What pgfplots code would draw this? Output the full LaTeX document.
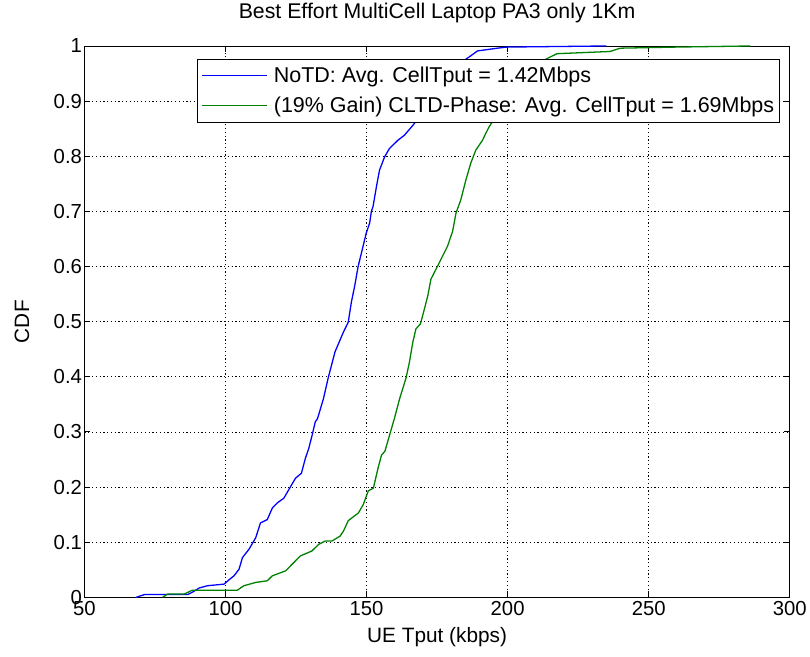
\documentclass[border=0pt]{standalone}
\usepackage{pgfplots}
\pgfplotsset{compat=1.18}
\usepackage{fontspec}
\setmainfont{Liberation Sans}
\definecolor{mblue}{rgb}{0,0,1}
\definecolor{mgreen}{rgb}{0,0.5,0}
\newcommand{\mfont}{\fontsize{21}{24}\selectfont}
\newcommand{\legfont}{\fontsize{21.7}{24}\selectfont}
\newcommand{\tickfont}{\fontsize{20.5}{24}\selectfont}
\newcommand{\legline}[1]{{\color{#1}\rule[0.33em]{65bp}{1.2bp}}\hspace{7bp}}
\begin{document}
\begin{tikzpicture}
\begin{axis}[
  scale only axis,
  width=710bp, height=555bp,
  xmin=50, xmax=300, ymin=0, ymax=1,
  xtick={50,100,...,300},
  ytick={0,0.1,...,1},
  yticklabels={0,0.1,0.2,0.3,0.4,0.5,0.6,0.7,0.8,0.9,1},
  tick align=inside, tick pos=both,
  major tick length=6bp,
  axis line style={line width=0.9bp},
  every tick/.style={black, line width=0.9bp},
  grid=major,
  major grid style={black, line width=0.8bp, dash pattern=on 1.2bp off 2.6bp},
  /pgf/number format/assume math mode=true,
  tick label style={font=\tickfont},
  xticklabel style={yshift=-1bp},
  yticklabel style={xshift=1bp},
  title={Best Effort MultiCell Laptop PA3 only 1Km},
  title style={font=\fontsize{21.5}{24}\selectfont, at={(rel axis cs:0.5,1)}, anchor=center, yshift=27bp},
  xlabel={UE Tput (kbps)},
  xlabel style={font=\mfont, at={(rel axis cs:0.5,0)}, anchor=center, yshift=-40bp},
  ylabel={CDF},
  ylabel style={font=\mfont, at={(rel axis cs:0,0.5)}, anchor=center, yshift=63bp},
  legend style={at={(rel axis cs:0.986,0.977)}, anchor=north east, draw=black, line width=1.4bp, fill=white, font=\legfont, row sep=9bp, inner xsep=3bp, inner ysep=6bp},
  legend cell align=left,
  legend image code/.code={},
]
\coordinate (ll) at (rel axis cs:0,0);
\addplot[color=mblue, line width=1.3bp] coordinates {
(68.3,0) (71.3,0.005) (86.6,0.005) (88.5,0.01) (90.7,0.017) (93.6,0.021) (99.5,0.024)
(101.3,0.032) (103,0.039) (104.8,0.051) (106,0.072) (108.3,0.087) (110.7,0.108)
(112.4,0.135) (114.8,0.141) (116.6,0.162) (118.3,0.171) (120.7,0.18) (122.4,0.195)
(124.8,0.216) (126.9,0.225) (128.3,0.252) (129.5,0.27) (130.7,0.294) (131.8,0.318)
(132.6,0.324) (134.7,0.36) (136.4,0.398) (138.8,0.445) (141.7,0.48) (143.5,0.499)
(144.6,0.535) (145.8,0.565) (147,0.6) (148.2,0.625) (149.9,0.661) (151.1,0.679)
(151.7,0.7) (152.3,0.709) (153.5,0.745) (154.6,0.775) (156.4,0.799) (158.1,0.814)
(161.1,0.829) (163.4,0.838) (166.4,0.856) (170,0.88) (174,0.91) (178,0.94) (182,0.965)
(186.9,0.982) (189.3,0.991) (196.4,0.996) (199.7,0.998) (235,1)
};
\addlegendentry{\legline{mblue}NoTD: Avg. CellTput = 1.42Mbps}
\addplot[color=mgreen, line width=1.3bp] coordinates {
(77.7,0) (79.5,0.006) (85.4,0.006) (88.3,0.013) (104.2,0.013) (106.5,0.021) (110.7,0.027)
(114.8,0.03) (116.6,0.039) (121.3,0.048) (124.2,0.063) (126.5,0.075) (130.6,0.084)
(133,0.096) (135.3,0.102) (137.7,0.102) (140.6,0.111) (141.8,0.12) (143.5,0.139)
(147.1,0.153) (148.8,0.168) (150.6,0.193) (152.4,0.198) (154.1,0.235) (155.3,0.258)
(156.5,0.265) (159.9,0.325) (161.7,0.36) (164,0.398) (165.2,0.427) (166.4,0.463)
(167.5,0.487) (169.1,0.496) (170.5,0.523) (171.7,0.547) (172.8,0.577) (175.2,0.601)
(178.7,0.637) (180.5,0.664) (181.7,0.697) (183.4,0.721) (185.2,0.757) (186.9,0.787)
(188.7,0.811) (191.1,0.829) (192.2,0.841) (193.4,0.853) (198,0.89) (203,0.925)
(208,0.955) (212,0.972) (215.1,0.98) (217.5,0.986) (236.3,0.99) (239.9,0.996)
(260,0.998) (286,1)
};
\addlegendentry{\legline{mgreen}(19\% Gain) CLTD-Phase: Avg. CellTput = 1.69Mbps}
\end{axis}
\path (ll) ++(-85bp,-60bp) rectangle ++(810bp,660bp);
\end{tikzpicture}
\end{document}
